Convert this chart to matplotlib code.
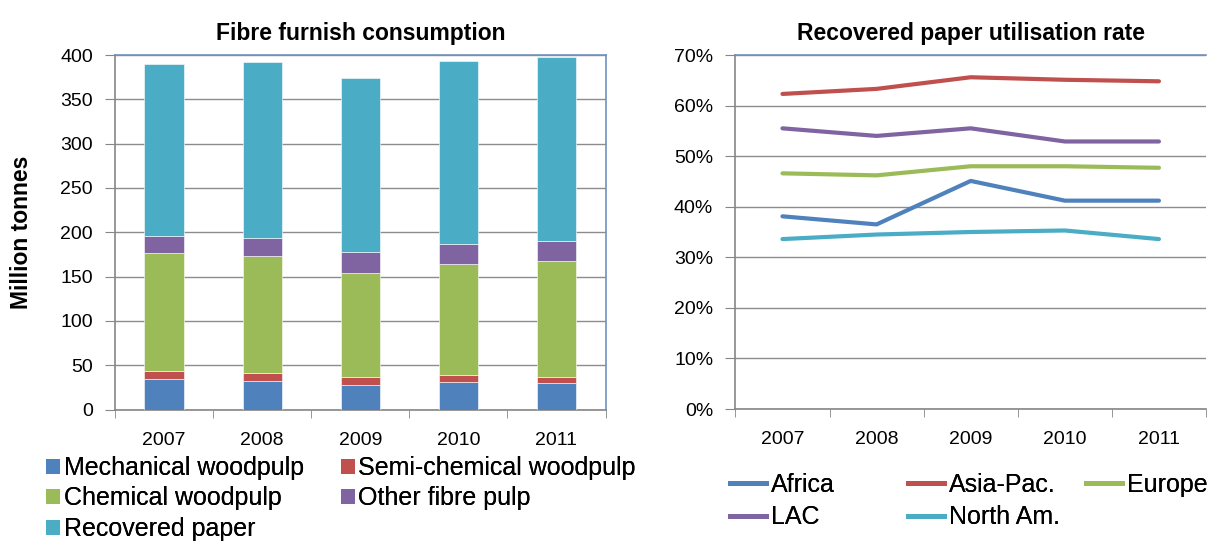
import matplotlib
matplotlib.use("Agg")
import matplotlib.pyplot as plt
import numpy as np
from matplotlib.patches import Patch
from matplotlib.lines import Line2D
from matplotlib.ticker import FuncFormatter, MultipleLocator, FixedLocator

plt.rcParams['font.family'] = ['Liberation Sans', 'DejaVu Sans']

years = ['2007', '2008', '2009', '2010', '2011']

# Fibre furnish consumption (million tonnes)
mechanical = [33.9, 32.7, 28.2, 30.9, 29.7]
semi_chemical = [9.7, 8.7, 8.7, 7.5, 7.2]
chemical = [132.5, 131.7, 117.0, 125.7, 130.6]
other_fibre = [20.0, 20.7, 23.3, 22.2, 22.2]
recovered = [194.1, 198.3, 196.8, 207.3, 208.4]

bar_series = ['Mechanical woodpulp', 'Semi-chemical woodpulp', 'Chemical woodpulp',
              'Other fibre pulp', 'Recovered paper']

# Recovered paper utilisation rate (%)
africa = [38.1, 36.5, 45.1, 41.2, 41.2]
asia_pac = [62.3, 63.3, 65.6, 65.1, 64.8]
europe = [46.6, 46.2, 48.0, 48.0, 47.7]
lac = [55.5, 54.0, 55.5, 52.9, 52.9]
north_am = [33.6, 34.5, 35.0, 35.3, 33.6]
line_series = ['Africa', 'Asia-Pac.', 'Europe', 'LAC', 'North Am.']

C_BLUE = '#4F81BD'
C_RED = '#C0504D'
C_GREEN = '#9BBB59'
C_PURPLE = '#8064A2'
C_CYAN = '#4BACC6'
GRID = '#8c8c8c'
AXIS = '#868686'
BORDER = '#7092BE'

fig = plt.figure(figsize=(12.11, 5.44), dpi=100)
W, H = 1211, 544

def box(l, r, t, b):
    return [l / W, 1 - b / H, (r - l) / W, (b - t) / H]

TICK_FS = 14
LEG_FS = 18
TITLE_FS = 16.5

x = np.arange(len(years))

def style_axes(ax, right_visible=True):
    ax.set_xlim(-0.5, len(years) - 0.5)
    ax.yaxis.grid(True, color=GRID, linewidth=1.0, zorder=0)
    ax.set_xticks(x)
    ax.set_xticklabels(years)
    ax.xaxis.set_minor_locator(FixedLocator(np.arange(-0.5, len(years), 1.0)))
    ax.tick_params(axis='x', which='major', length=0, labelsize=TICK_FS, pad=16)
    ax.tick_params(axis='x', which='minor', length=6, color=AXIS, direction='out')
    ax.tick_params(axis='y', length=7, color=AXIS, labelsize=TICK_FS, pad=9)
    for s in ['left', 'bottom']:
        ax.spines[s].set_color(AXIS)
        ax.spines[s].set_linewidth(1.2)
    ax.spines['top'].set_color(BORDER)
    ax.spines['top'].set_linewidth(1.2)
    if right_visible:
        ax.spines['right'].set_color(BORDER)
        ax.spines['right'].set_linewidth(1.2)
    else:
        ax.spines['right'].set_visible(False)

# ---------- Left: stacked bars ----------
ax1 = fig.add_axes(box(115, 605.5, 55, 409.5))
bottom = np.zeros(len(years))
bar_colors = [C_BLUE, C_RED, C_GREEN, C_PURPLE, C_CYAN]
for vals, col, name in zip([mechanical, semi_chemical, chemical, other_fibre, recovered],
                           bar_colors, bar_series):
    ax1.bar(x, vals, bottom=bottom, width=0.4, color=col, edgecolor='white',
            linewidth=0.4, label=name, zorder=3)
    bottom += np.array(vals)
ax1.set_ylim(0, 400)
ax1.yaxis.set_major_locator(MultipleLocator(50))
style_axes(ax1, True)
ax1.set_ylabel('Million tonnes', fontsize=16.5, fontweight='bold')
ax1.yaxis.set_label_coords(-0.168, 0.5)
ax1.set_title('Fibre furnish consumption', fontsize=TITLE_FS, fontweight='bold', pad=11)

handles1 = [Patch(facecolor=c, edgecolor='none') for c in bar_colors]
leg_kw = dict(loc='upper left', frameon=False, fontsize=LEG_FS, handlelength=0.55,
              handleheight=0.55, handletextpad=0.15, labelspacing=0.26,
              borderaxespad=0, borderpad=0)
for idxs, xpx in [([0, 2, 4], 46), ([1, 3], 341)]:
    lg = fig.legend([handles1[i] for i in idxs], [bar_series[i] for i in idxs],
                    bbox_to_anchor=(xpx / W, 1 - 456 / H), **leg_kw)
    fig.add_artist(lg)

# ---------- Right: lines ----------
ax2 = fig.add_axes(box(735.4, 1206, 55, 409))
line_colors = [C_BLUE, C_RED, C_GREEN, C_PURPLE, C_CYAN]
for vals, col, name in zip([africa, asia_pac, europe, lac, north_am], line_colors, line_series):
    ax2.plot(x, vals, color=col, linewidth=3.0, label=name, zorder=3,
             solid_capstyle='round')
ax2.set_ylim(0, 70)
ax2.yaxis.set_major_locator(MultipleLocator(10))
ax2.yaxis.set_major_formatter(FuncFormatter(lambda v, p: f'{v:.0f}%'))
style_axes(ax2, False)
ax2.set_title('Recovered paper utilisation rate', fontsize=TITLE_FS, fontweight='bold', pad=11)

handles2 = [Line2D([0], [0], color=c, linewidth=3.5) for c in line_colors]
leg_kw2 = dict(loc='upper left', frameon=False, fontsize=LEG_FS, handlelength=1.45,
               handletextpad=0.2, labelspacing=0.33, borderaxespad=0, borderpad=0)
for idxs, xpx in [([0, 3], 730), ([1, 4], 908), ([2], 1086)]:
    lg = fig.legend([handles2[i] for i in idxs], [line_series[i] for i in idxs],
                    bbox_to_anchor=(xpx / W, 1 - 473 / H), **leg_kw2)
    fig.add_artist(lg)

fig.savefig('out.png', dpi=100, facecolor='white')
